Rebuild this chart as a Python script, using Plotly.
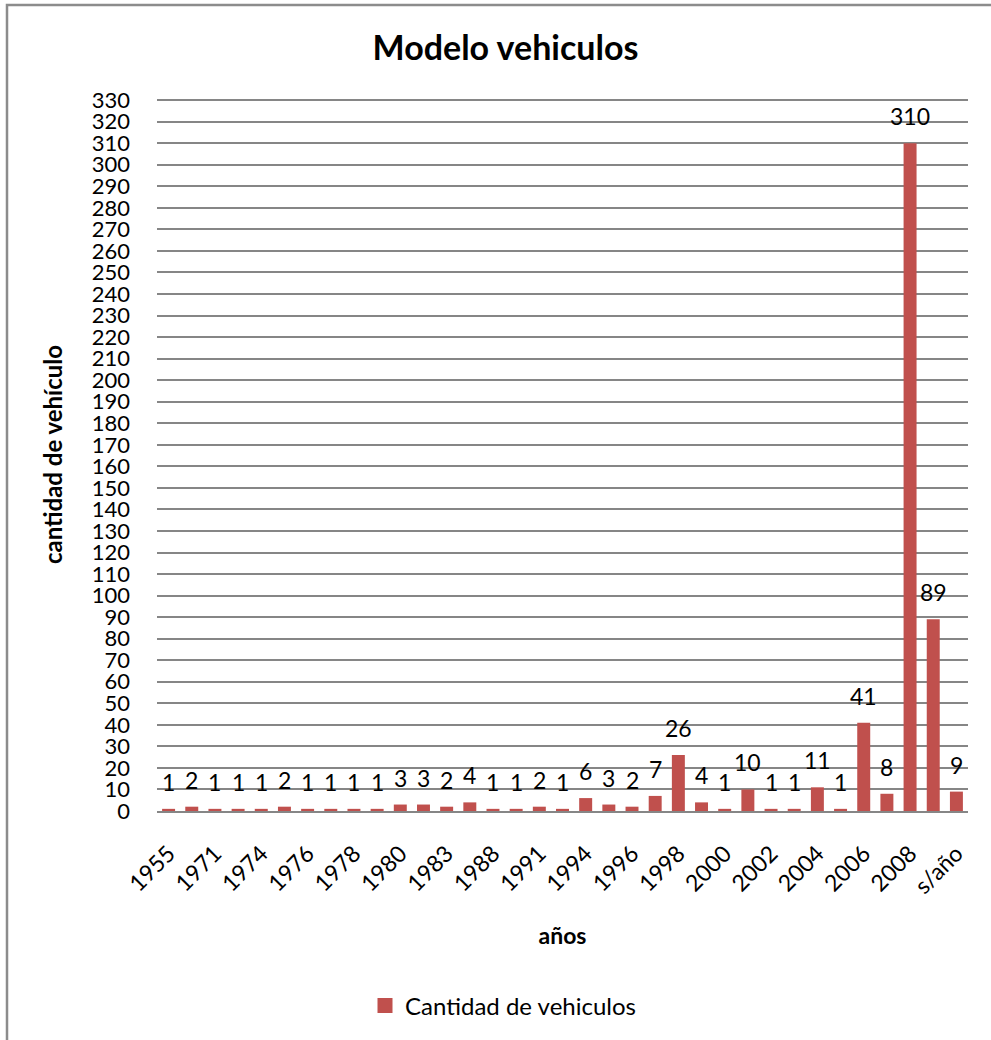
import plotly.graph_objects as go

categories = ["1955", "1970", "1971", "1973", "1974", "1975", "1976", "1977", "1978", "1979",
              "1980", "1982", "1983", "1985", "1988", "1990", "1991", "1993", "1994", "1995",
              "1996", "1997", "1998", "1999", "2000", "2001", "2002", "2003", "2004", "2005",
              "2006", "2007", "2008", "2009", "s/año"]
values = [1, 2, 1, 1, 1, 2, 1, 1, 1, 1,
          3, 3, 2, 4, 1, 1, 2, 1, 6, 3,
          2, 7, 26, 4, 1, 10, 1, 1, 11, 1,
          41, 8, 310, 89, 9]
tick_labels = categories[::2]
series_name = "Cantidad de vehiculos"

FONT = "Lato"
BAR_COLOR = "#C0504D"
W, H = 991, 1040
L, R, T, B = 157, 23, 98, 229

fig = go.Figure()
fig.add_trace(go.Bar(
    x=categories, y=values, name=series_name, showlegend=False,
    marker=dict(color=BAR_COLOR, line=dict(width=0)),
))
# legend entry with a larger square swatch (legend only, no data drawn)
fig.add_trace(go.Scatter(
    x=[None], y=[None], mode="markers", name=series_name, showlegend=True,
    marker=dict(symbol="square", size=15, color=BAR_COLOR),
))

annotations = []
for i, v in enumerate(values):
    annotations.append(dict(
        x=i, y=v, xref="x", yref="y", text=str(v), showarrow=False,
        yanchor="middle", yshift=27,
        font=dict(family=FONT, size=23, color="#000000"),
    ))

pw = W - L - R
ph = H - T - B
# outer chart border (left & top visible)
fig.add_shape(type="rect", xref="paper", yref="paper",
              x0=(7 - L) / pw, x1=(W + 20 - L) / pw,
              y0=-(H + 20 - (H - B)) / ph, y1=(H - B - 5) / ph,
              line=dict(color="#8c8c8c", width=2.5), fillcolor="rgba(0,0,0,0)", layer="below")

fig.update_layout(
    width=W, height=H,
    margin=dict(l=L, r=R, t=T, b=B, autoexpand=False),
    paper_bgcolor="white", plot_bgcolor="white",
    font=dict(family=FONT, size=23, color="#000000"),
    title=dict(text="<b>Modelo vehiculos</b>", font=dict(family=FONT, size=34, color="#000000"),
               x=505.5 / W, xref="container", xanchor="center",
               y=1 - 48 / H, yref="container", yanchor="middle"),
    bargap=0.44,
    showlegend=True,
    legend=dict(orientation="h", xref="container", yref="container",
                x=503 / W, xanchor="center", y=1 - 1006 / H, yanchor="middle",
                font=dict(family=FONT, size=24, color="#000000"),
                itemsizing="trace", itemwidth=30),
    annotations=annotations,
)

fig.update_xaxes(
    type="category", categoryorder="array", categoryarray=categories,
    tickmode="array", tickvals=tick_labels, ticktext=tick_labels,
    tickangle=-45, showgrid=False, showline=True, linecolor="#868686", linewidth=2,
    ticks="", automargin=False, ticklabelstandoff=18,
    tickfont=dict(family=FONT, size=23),
    title=dict(text="<b>años</b>", font=dict(family=FONT, size=23), standoff=30),
)
fig.update_yaxes(
    range=[0, 331], tickvals=list(range(0, 331, 10)), showgrid=True,
    gridcolor="#868686", gridwidth=1.5,
    zeroline=False, showline=False, ticks="", automargin=False, ticklabelstandoff=26,
    tickfont=dict(family=FONT, size=22),
    title=dict(text="<b>cantidad de vehículo</b>", font=dict(family=FONT, size=24), standoff=22),
)

fig.write_html("out.html", config={"displayModeBar": False},
               post_script="document.body.style.margin='0';")
